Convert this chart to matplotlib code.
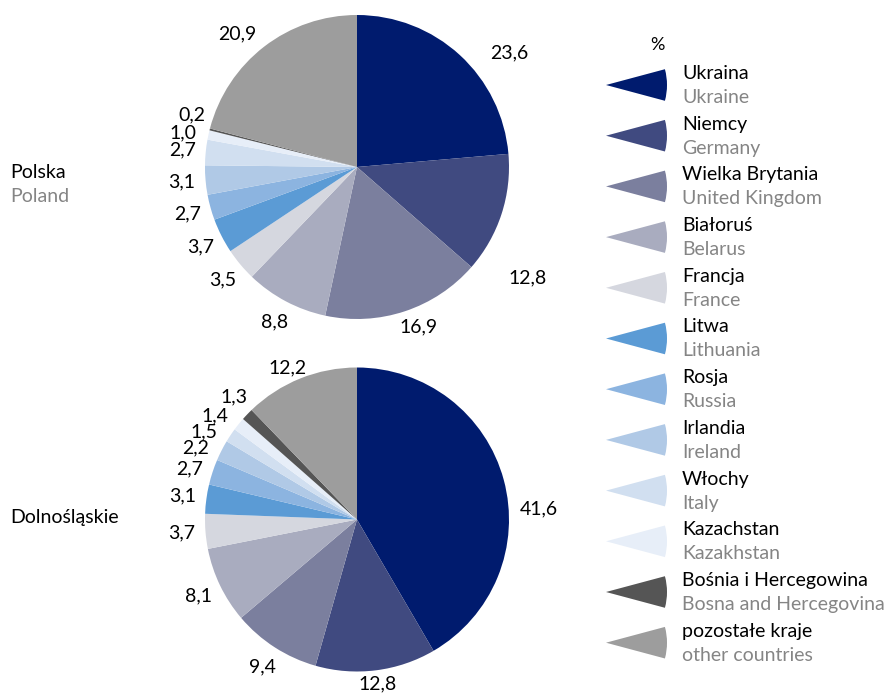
import numpy as np
import matplotlib
matplotlib.use("Agg")
import matplotlib.pyplot as plt
from matplotlib.patches import Wedge

plt.rcParams['font.family'] = ['Lato', 'DejaVu Sans']

# ---- data ----
countries_pl = ["Ukraina", "Niemcy", "Wielka Brytania", "Białoruś", "Francja", "Litwa",
                "Rosja", "Irlandia", "Włochy", "Kazachstan", "Bośnia i Hercegowina",
                "pozostałe kraje"]
countries_en = ["Ukraine", "Germany", "United Kingdom", "Belarus", "France", "Lithuania",
                "Russia", "Ireland", "Italy", "Kazakhstan", "Bosna and Hercegovina",
                "other countries"]
polska = [23.6, 12.8, 16.9, 8.8, 3.5, 3.7, 2.7, 3.1, 2.7, 1.0, 0.2, 20.9]
dolnoslaskie = [41.6, 12.8, 9.4, 8.1, 3.7, 3.1, 2.7, 2.2, 1.5, 1.4, 1.3, 12.2]
colors = ["#001B6E", "#404A80", "#7B7F9E", "#A9ACBF", "#D5D7DF", "#5B9BD5",
          "#8CB4E0", "#B0C9E6", "#D1DFF0", "#E7EEF8", "#555555", "#9D9D9D"]
unit = "%"

W, H = 891, 697
fig = plt.figure(figsize=(W / 100, H / 100), dpi=100)
ax = fig.add_axes([0, 0, 1, 1])
ax.set_xlim(0, W)
ax.set_ylim(0, H)
ax.set_aspect('equal')
ax.axis('off')

FS = 14
GRAY = "#858585"
R = 152

# label placement tweaks: slice index -> (angle in degrees, distance in radii)
pies = [
    ("Polska", "Poland", polska, (357, H - 167),
     {0: (36.9, 1.25), 1: (-33, 1.34), 2: (-69, 1.13), 9: (169, 1.165), 10: (162.5, 1.14),
      11: (132, 1.18)}),
    ("Dolnośląskie", None, dolnoslaskie, (357, H - 519.5),
     {0: (3.3, 1.2), 1: (-83, 1.09), 6: (163.3, 1.15), 7: (156, 1.16), 8: (150.2, 1.16),
      9: (143.9, 1.16), 10: (135.1, 1.145), 11: (114.7, 1.1)}),
]

for name_pl, name_en, vals, center, overrides in pies:
    wedges, _ = ax.pie(vals, colors=colors, startangle=90, counterclock=False,
                       center=center, radius=R, normalize=True,
                       wedgeprops=dict(linewidth=0))
    for i, (w, v) in enumerate(zip(wedges, vals)):
        mid = (w.theta1 + w.theta2) / 2
        dist = 1.155
        if i in overrides:
            mid, dist = overrides[i]
        x = center[0] + R * dist * np.cos(np.radians(mid))
        y = center[1] + R * dist * np.sin(np.radians(mid))
        ax.text(x, y, f"{v:.1f}".replace(".", ","), ha='center', va='center',
                fontsize=FS, color='black')
    if name_en:
        ax.text(10, center[1] - 5, name_pl, ha='left', va='center', fontsize=FS)
        ax.text(10, center[1] - 30, name_en, ha='left', va='center', fontsize=FS, color=GRAY)
    else:
        ax.text(10, center[1] + 2, name_pl, ha='left', va='center', fontsize=FS)

ax.set_xlim(0, W)
ax.set_ylim(0, H)

# legend
ax.text(657, H - 45, unit, ha='center', va='center', fontsize=FS - 1)
y0 = 85
step = 50.7
for i, (pl, en, c) in enumerate(zip(countries_pl, countries_en, colors)):
    yc = H - (y0 + i * step)
    ax.add_patch(Wedge((606, yc), 61, -15, 15, facecolor=c, edgecolor='none'))
    ax.text(682, yc + 11.5, pl, ha='left', va='center', fontsize=FS, color='black')
    ax.text(682, yc - 12.5, en, ha='left', va='center', fontsize=FS, color=GRAY)

fig.savefig("out.png", dpi=100)
